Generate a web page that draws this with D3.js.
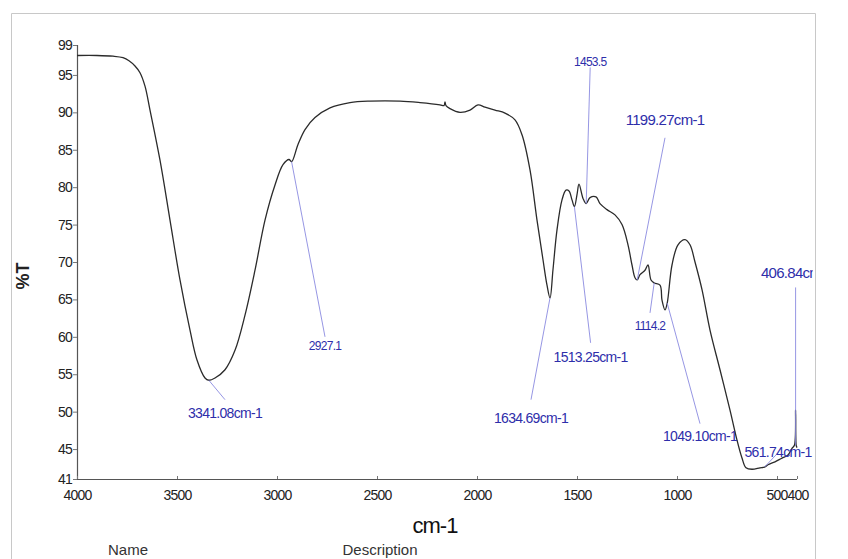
<!DOCTYPE html>
<html>
<head>
<meta charset="utf-8">
<script src="https://cdn.jsdelivr.net/npm/d3@7"></script>
<style>
body { margin: 0; background: #fff; }
text { font-family: "Liberation Sans Narrow", "Arial Narrow", "Liberation Sans", sans-serif; }
</style>
</head>
<body>
<div id="chart"></div>
<script>
// spectrum
const waveNumbers = [4000, 3900, 3820, 3770, 3740, 3710, 3685, 3660, 3635, 3585, 3535, 3485, 3435, 3400, 3360, 3341, 3310, 3260, 3210, 3160, 3110, 3060, 3010, 2970, 2940, 2927, 2895, 2860, 2810, 2735, 2635, 2535, 2385, 2285, 2185, 2165, 2160, 2155, 2135, 2085, 2035, 1995, 1960, 1910, 1860, 1810, 1775, 1735, 1700, 1670, 1650, 1635, 1620, 1600, 1575, 1555, 1540, 1525, 1513, 1500, 1490, 1470, 1454, 1435, 1405, 1385, 1350, 1310, 1275, 1245, 1225, 1210, 1199, 1185, 1160, 1145, 1130, 1114, 1085, 1075, 1060, 1049, 1025, 995, 960, 935, 910, 875, 835, 785, 735, 700, 675, 655, 625, 585, 562, 545, 510, 475, 445, 425, 413, 407, 404, 400];
const transmittance = [97.6, 97.6, 97.5, 97.3, 96.9, 96.2, 95.3, 93.5, 90.3, 83.6, 75.6, 67.6, 60.9, 56.9, 54.5, 54.2, 54.5, 55.6, 58.2, 62.9, 68.9, 75.6, 80.3, 83.0, 83.7, 83.4, 85.7, 87.7, 89.3, 90.6, 91.3, 91.5, 91.5, 91.3, 91.0, 90.9, 91.4, 90.9, 90.5, 90.0, 90.3, 91.0, 90.7, 90.3, 89.9, 89.0, 87.0, 82.3, 75.6, 70.3, 66.9, 65.2, 69.0, 74.3, 78.3, 79.6, 79.5, 78.3, 77.4, 79.0, 80.4, 78.5, 77.8, 78.6, 78.7, 77.8, 77.0, 76.3, 75.0, 72.3, 69.6, 67.9, 67.6, 68.3, 68.9, 69.6, 67.6, 67.2, 66.9, 64.9, 63.6, 64.5, 69.6, 72.3, 73.0, 72.3, 70.0, 66.3, 60.9, 55.6, 50.2, 46.2, 43.8, 42.5, 42.3, 42.5, 42.6, 42.9, 43.3, 43.8, 44.2, 45.1, 45.5, 50.2, 45.5, 45.2];

// peak labels: text, peak position, label anchor (in data units)
const peakLabels = ["1453.5", "1199.27cm-1", "2927.1", "3341.08cm-1", "1634.69cm-1", "1513.25cm-1", "1114.2", "1049.10cm-1", "561.74cm-1", "406.84cm-1"];
const peakWn = [1454, 1199, 2927, 3341, 1635, 1513, 1114, 1049, 562, 407];
const peakT = [77.8, 67.6, 83.4, 54.2, 65.2, 77.4, 67.2, 64.5, 42.6, 45.5];
const labelWn = [1434, 1060, 2760, 3260, 1730, 1432, 1135, 885, 495, 400];
const labelT = [96.2, 88.3, 58.2, 49.2, 48.5, 56.6, 60.9, 46.1, 43.9, 67.9];
const lineEndT = [96.0, 86.6, 60.0, 51.6, 51.6, 59.2, 63.2, 48.4, 44.5, 66.6];
const labelSize = [12, 15, 12, 14, 14, 14, 12, 14, 14, 15];

const yTicks = [99, 95, 90, 85, 80, 75, 70, 65, 60, 55, 50, 45, 41];
const xTicks = [4000, 3500, 3000, 2500, 2000, 1500, 1000, 500, 400];

const width = 848, height = 559;
const svg = d3.select("#chart").append("svg")
	.attr("width", width)
	.attr("height", height);

// outer frame
svg.append("path")
	.attr("d", "M11.5,560 V13.5 H815.5 V560")
	.attr("fill", "none")
	.attr("stroke", "#c8c8c8");

const x = d3.scaleLinear().domain([4000, 400]).range([77, 797]);
const y = d3.scaleLinear().domain([41, 99]).range([479, 45]);

svg.append("clipPath").attr("id", "frame")
	.append("rect").attr("x", 12).attr("y", 14).attr("width", 801).attr("height", 545);

// axes
const yAxis = svg.append("g")
	.attr("transform", "translate(77,0)")
	.call(d3.axisLeft(y).tickValues(yTicks).tickSize(4).tickPadding(1).tickFormat(d3.format("d")));
const xAxis = svg.append("g")
	.attr("transform", "translate(0,479)")
	.call(d3.axisBottom(x).tickValues(xTicks).tickSize(-3).tickPadding(8).tickFormat(d3.format("d")));

[yAxis, xAxis].forEach((g) => {
	g.select(".domain").attr("stroke", "#555").attr("stroke-width", 1.2);
	g.selectAll(".tick line").attr("stroke", "#777");
	g.selectAll(".tick text")
		.attr("fill", "#222")
		.style("font-size", "14px")
		.style("letter-spacing", "-0.8px");
});
yAxis.select(".domain").attr("d", "M0.5,45V479");
xAxis.select(".domain").attr("d", "M77,0.5H797");
xAxis.selectAll(".tick text").attr("dy", "0.9em");
xAxis.selectAll(".tick")
	.filter((d) => d === 500)
	.select("text").attr("text-anchor", "end").attr("dx", 10);
xAxis.selectAll(".tick")
	.filter((d) => d === 400)
	.select("text").attr("text-anchor", "start").attr("dx", -10);

// spectrum line
const line = d3.line()
	.x((d, i) => x(waveNumbers[i]))
	.y((d) => y(d))
	.curve(d3.curveCatmullRom.alpha(0.5));

svg.append("path")
	.datum(transmittance)
	.attr("d", line)
	.attr("fill", "none")
	.attr("stroke", "#2b2b2b")
	.attr("stroke-width", 1.3);

// peak annotations
const notes = svg.append("g").attr("clip-path", "url(#frame)");
peakLabels.forEach((lab, i) => {
	notes.append("line")
		.attr("x1", x(peakWn[i]))
		.attr("y1", y(peakT[i]))
		.attr("x2", x(i === 9 ? peakWn[i] : labelWn[i]))
		.attr("y2", y(lineEndT[i]))
		.attr("stroke", "#8a8ae0")
		.attr("stroke-width", 0.9);
	notes.append("text")
		.attr("x", x(labelWn[i]))
		.attr("y", y(labelT[i]))
		.attr("text-anchor", "middle")
		.attr("fill", "#2e2eaa")
		.style("font-size", labelSize[i] + "px")
		.style("letter-spacing", "-0.7px")
		.text(lab);
});

// axis titles
svg.append("text")
	.attr("transform", "translate(29,276) rotate(-90)")
	.attr("text-anchor", "middle")
	.attr("fill", "#222")
	.style("font-size", "18px")
	.style("font-weight", "bold")
	.text("%T");

svg.append("text")
	.attr("x", 435)
	.attr("y", 533)
	.attr("text-anchor", "middle")
	.attr("fill", "#111")
	.style("font-size", "22px")
	.style("letter-spacing", "-1px")
	.text("cm-1");

svg.append("text")
	.attr("x", 128)
	.attr("y", 555)
	.attr("text-anchor", "middle")
	.attr("fill", "#333")
	.style("font-size", "15px")
	.text("Name");

svg.append("text")
	.attr("x", 380)
	.attr("y", 555)
	.attr("text-anchor", "middle")
	.attr("fill", "#333")
	.style("font-size", "15px")
	.text("Description");
</script>
</body>
</html>
